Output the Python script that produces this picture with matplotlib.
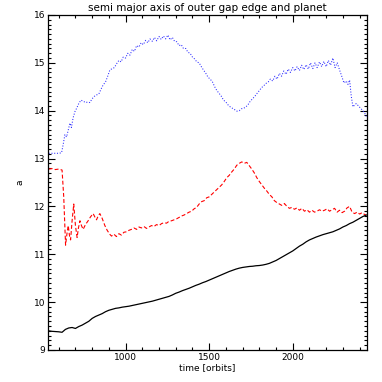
import matplotlib
matplotlib.use("Agg")
import matplotlib.pyplot as plt
from matplotlib.ticker import MultipleLocator

# planet semi major axis (solid black)
t_planet = [540, 560, 580, 600, 620, 640, 660, 680, 700, 720, 740, 760, 780, 800,
            820, 840, 860, 880, 900, 920, 940, 960, 980, 1000, 1020, 1040, 1060,
            1080, 1100, 1120, 1140, 1160, 1180, 1200, 1220, 1240, 1260, 1280, 1300,
            1320, 1340, 1360, 1380, 1400, 1420, 1440, 1460, 1480, 1500, 1520, 1540,
            1560, 1580, 1600, 1620, 1640, 1660, 1680, 1700, 1720, 1740, 1760, 1780,
            1800, 1820, 1840, 1860, 1880, 1900, 1920, 1940, 1960, 1980, 2000, 2020,
            2040, 2060, 2080, 2100, 2120, 2140, 2160, 2180, 2200, 2220, 2240, 2260,
            2280, 2300, 2320, 2340, 2360, 2380, 2400, 2420, 2440]
a_planet = [9.40, 9.39, 9.385, 9.38, 9.37, 9.43, 9.46, 9.47, 9.45, 9.49, 9.52, 9.56,
            9.60, 9.66, 9.70, 9.73, 9.76, 9.80, 9.83, 9.85, 9.87, 9.88, 9.895, 9.905,
            9.915, 9.93, 9.945, 9.96, 9.975, 9.99, 10.005, 10.02, 10.04, 10.06, 10.08,
            10.10, 10.12, 10.15, 10.185, 10.21, 10.24, 10.265, 10.29, 10.32, 10.35,
            10.375, 10.405, 10.43, 10.46, 10.49, 10.52, 10.55, 10.58, 10.61, 10.64,
            10.665, 10.69, 10.71, 10.725, 10.735, 10.745, 10.75, 10.76, 10.765, 10.775,
            10.79, 10.81, 10.84, 10.87, 10.91, 10.95, 10.99, 11.03, 11.07, 11.12,
            11.17, 11.21, 11.26, 11.30, 11.33, 11.36, 11.385, 11.41, 11.43, 11.45,
            11.47, 11.50, 11.53, 11.57, 11.60, 11.64, 11.67, 11.71, 11.75, 11.79, 11.82]

# outer gap edge, red dashed
t_edge_red = [540, 560, 580, 600, 620, 630, 641, 650, 657, 664, 671, 680, 690, 700,
              710, 718, 727, 736, 746, 760, 776, 790, 806, 816, 826, 836, 846, 860,
              876, 890, 905, 916, 930, 945, 960, 975, 990, 1006, 1020, 1035, 1050,
              1066, 1080, 1095, 1110, 1125, 1140, 1155, 1170, 1185, 1200, 1215, 1230,
              1245, 1260, 1275, 1290, 1305, 1320, 1335, 1350, 1365, 1380, 1395, 1410,
              1425, 1440, 1455, 1470, 1485, 1500, 1515, 1530, 1545, 1560, 1575, 1590,
              1605, 1620, 1635, 1650, 1665, 1680, 1695, 1710, 1725, 1740, 1755, 1770,
              1785, 1800, 1815, 1830, 1845, 1860, 1875, 1890, 1905, 1920, 1935, 1950,
              1965, 1980, 1995, 2010, 2025, 2040, 2055, 2070, 2085, 2100, 2115, 2130,
              2145, 2160, 2175, 2190, 2205, 2220, 2235, 2250, 2265, 2280, 2295, 2310,
              2325, 2340, 2355, 2370, 2385, 2400, 2415, 2430, 2440]
a_edge_red = [12.78, 12.79, 12.77, 12.78, 12.76, 12.2, 11.19, 11.45, 11.6, 11.4, 11.3,
              11.7, 12.05, 11.6, 11.35, 11.55, 11.7, 11.6, 11.52, 11.62, 11.7, 11.78,
              11.85, 11.78, 11.72, 11.8, 11.85, 11.75, 11.6, 11.5, 11.42, 11.38, 11.42,
              11.37, 11.43, 11.4, 11.46, 11.47, 11.5, 11.52, 11.55, 11.52, 11.57, 11.55,
              11.58, 11.54, 11.57, 11.6, 11.58, 11.62, 11.6, 11.64, 11.66, 11.65, 11.69,
              11.7, 11.72, 11.74, 11.77, 11.8, 11.82, 11.85, 11.88, 11.9, 11.95, 11.98,
              12.05, 12.1, 12.12, 12.18, 12.2, 12.25, 12.3, 12.35, 12.4, 12.45, 12.52,
              12.6, 12.65, 12.72, 12.78, 12.86, 12.9, 12.93, 12.9, 12.92, 12.85, 12.78,
              12.7, 12.6, 12.52, 12.45, 12.38, 12.32, 12.25, 12.2, 12.12, 12.08, 12.05,
              12.02, 12.06, 12.0, 11.96, 11.98, 11.94, 11.97, 11.92, 11.96, 11.9, 11.93,
              11.88, 11.92, 11.88, 11.9, 11.93, 11.9, 11.92, 11.95, 11.9, 11.93, 11.96,
              11.88, 11.92, 11.87, 11.9, 11.97, 12.0, 11.88, 11.85, 11.88, 11.84, 11.87,
              11.83, 11.82]

# outer gap edge, blue dotted
t_edge_blue = [540, 560, 580, 600, 617, 627, 637, 647, 657, 667, 676, 686, 697, 707,
               720, 733, 746, 760, 773, 786, 800, 813, 827, 840, 853, 866, 880, 893,
               906, 920, 933, 946, 960, 973, 986, 1000, 1013, 1026, 1040, 1053, 1066,
               1080, 1093, 1106, 1120, 1133, 1146, 1160, 1173, 1186, 1200, 1213, 1226,
               1240, 1253, 1266, 1280, 1293, 1306, 1320, 1333, 1346, 1360, 1373, 1386,
               1400, 1413, 1426, 1440, 1453, 1466, 1480, 1493, 1506, 1520, 1533, 1546,
               1560, 1573, 1586, 1600, 1613, 1626, 1640, 1653, 1666, 1680, 1693, 1706,
               1720, 1733, 1746, 1760, 1773, 1786, 1800, 1813, 1826, 1840, 1853, 1866,
               1880, 1893, 1906, 1920, 1933, 1946, 1960, 1973, 1986, 2000, 2013, 2026,
               2040, 2053, 2066, 2080, 2093, 2106, 2120, 2133, 2146, 2160, 2173, 2186,
               2200, 2213, 2226, 2240, 2253, 2266, 2280, 2293, 2306, 2320, 2330, 2340,
               2350, 2360, 2370, 2380, 2393, 2406, 2420, 2430, 2440]
a_edge_blue = [13.11, 13.11, 13.11, 13.11, 13.12, 13.3, 13.5, 13.45, 13.6, 13.74, 13.65,
               13.85, 13.98, 14.05, 14.15, 14.22, 14.2, 14.17, 14.18, 14.17, 14.25,
               14.3, 14.33, 14.35, 14.45, 14.54, 14.6, 14.72, 14.85, 14.88, 14.9, 14.98,
               15.05, 15.02, 15.12, 15.1, 15.2, 15.16, 15.28, 15.24, 15.36, 15.33, 15.42,
               15.38, 15.47, 15.42, 15.5, 15.45, 15.53, 15.46, 15.55, 15.49, 15.56,
               15.5, 15.58, 15.48, 15.53, 15.45, 15.44, 15.36, 15.38, 15.3, 15.3, 15.22,
               15.2, 15.12, 15.08, 15.02, 15.0, 14.92, 14.85, 14.78, 14.7, 14.66, 14.6,
               14.5, 14.42, 14.36, 14.3, 14.22, 14.18, 14.12, 14.08, 14.05, 14.02,
               13.99, 14.0, 14.04, 14.05, 14.08, 14.13, 14.2, 14.25, 14.3, 14.36, 14.42,
               14.48, 14.52, 14.57, 14.6, 14.66, 14.62, 14.72, 14.66, 14.78, 14.72, 14.83,
               14.76, 14.87, 14.8, 14.9, 14.83, 14.92, 14.84, 14.95, 14.86, 14.96, 14.87,
               15.0, 14.88, 15.0, 14.9, 15.02, 14.92, 15.03, 14.92, 15.05, 14.95, 15.1,
               14.9, 15.0, 14.85, 14.72, 14.58, 14.62, 14.55, 14.64, 14.3, 14.08,
               14.12, 14.15, 14.1, 14.05, 14.0, 13.95, 13.88]

plt.rcParams['font.family'] = 'DejaVu Sans'
fig = plt.figure(figsize=(3.82, 3.82), dpi=100)
ax = fig.add_axes([0.1257, 0.0838, 0.835, 0.877])

ax.plot(t_edge_blue, a_edge_blue, color='#2a2aff', ls=':', lw=0.75)
ax.plot(t_edge_red, a_edge_red, color='red', ls=(0, (3.5, 2)), lw=0.8)
ax.plot(t_planet, a_planet, color='black', lw=0.9)

ax.set_xlim(536, 2444)
ax.set_ylim(9, 16)
ax.xaxis.set_major_locator(MultipleLocator(500))
ax.xaxis.set_minor_locator(MultipleLocator(100))
ax.yaxis.set_major_locator(MultipleLocator(1))
ax.yaxis.set_minor_locator(MultipleLocator(0.1))
ax.tick_params(which='both', direction='in', top=True, right=True, labelsize=6.5,
               width=0.8, pad=2)
ax.tick_params(which='major', length=5)
ax.tick_params(which='minor', length=2.5)
for s in ax.spines.values():
    s.set_linewidth(0.9)

ax.set_title('semi major axis of outer gap edge and planet', fontsize=7.5, pad=3)
ax.set_xlabel('time [orbits]', fontsize=6.5, labelpad=1)
ax.set_ylabel('a', fontsize=6.5, labelpad=7)

fig.savefig('out.png', dpi=100)
